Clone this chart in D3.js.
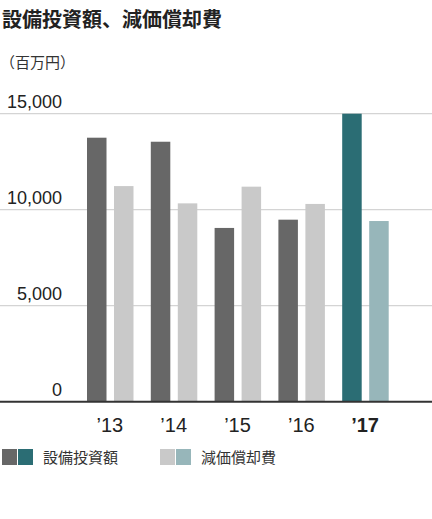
<!DOCTYPE html>
<html><head><meta charset="utf-8">
<script src="https://cdn.jsdelivr.net/npm/d3@7"></script>
<style>body{margin:0;background:#fff}text{font-family:"Noto Sans CJK JP","Liberation Sans",sans-serif}</style>
</head><body>
<svg id="c" width="432" height="519"></svg>
<script>
var years = ["’13", "’14", "’15", "’16", "’17"];
var capex = [13750, 13540, 9050, 9480, 15000];
var depreciation = [11230, 10330, 11200, 10300, 9410];
var ticks = [0, 5000, 10000, 15000];

var svg = d3.select('#c');
var y = d3.scaleLinear().domain([0, 15000]).range([401.7, 113.7]);
var x = d3.scaleBand().domain(years).range([78, 397]);
var bw = 19.5;

svg.append('text').attr('x', 2).attr('y', 27).attr('font-size', 20).attr('font-weight', 'bold')
	.attr('fill', '#222').text('設備投資額、減価償却費');
svg.append('text').attr('x', 0).attr('y', 68).attr('font-size', 15).attr('fill', '#333').text('（百万円）');

// grid
svg.selectAll('.grid').data(ticks.slice(1)).enter().append('line')
	.attr('x1', 0).attr('x2', 432)
	.attr('y1', function(d) { return y(d); }).attr('y2', function(d) { return y(d); })
	.attr('stroke', '#d4d4d4').attr('stroke-width', 1.2);
svg.selectAll('.tick').data(ticks).enter().append('text')
	.attr('x', 62).attr('y', function(d) { return y(d) - 6; })
	.attr('text-anchor', 'end').attr('font-size', 18).attr('fill', '#222')
	.style('font-family', 'Liberation Sans, Arial, sans-serif')
	.text(function(d) { return d3.format(',')(d); });

// bars
svg.selectAll('.capex').data(capex).enter().append('rect')
	.attr('x', function(d, i) { return x(years[i]) + 9; })
	.attr('y', function(d) { return y(d); })
	.attr('width', bw).attr('height', function(d) { return y(0) - y(d); })
	.attr('fill', function(d, i) { return i === 4 ? '#2b6d74' : '#676767'; });
svg.selectAll('.dep').data(depreciation).enter().append('rect')
	.attr('x', function(d, i) { return x(years[i]) + 36; })
	.attr('y', function(d) { return y(d); })
	.attr('width', bw).attr('height', function(d) { return y(0) - y(d); })
	.attr('fill', function(d, i) { return i === 4 ? '#97b6ba' : '#c9c9c9'; });

svg.append('line').attr('x1', 0).attr('x2', 432).attr('y1', y(0)).attr('y2', y(0))
	.attr('stroke', '#333').attr('stroke-width', 2);

svg.selectAll('.xl').data(years).enter().append('text')
	.attr('x', function(d) { return x(d) + x.bandwidth() / 2; }).attr('y', 432)
	.attr('text-anchor', 'middle').attr('font-size', 20).attr('fill', '#222')
	.style('font-family', 'Liberation Sans, Arial, sans-serif')
	.attr('font-weight', function(d, i) { return i === 4 ? 'bold' : 'normal'; })
	.text(function(d) { return d; });

// legend
var legend = [
	{x: 2, c: ['#676767', '#2b6d74'], t: '設備投資額'},
	{x: 160, c: ['#c9c9c9', '#97b6ba'], t: '減価償却費'}
];
var lg = svg.selectAll('.lg').data(legend).enter().append('g')
	.attr('transform', function(d) { return 'translate(' + d.x + ',449)'; });
lg.append('rect').attr('width', 15).attr('height', 16).attr('fill', function(d) { return d.c[0]; });
lg.append('rect').attr('x', 16).attr('width', 15).attr('height', 16).attr('fill', function(d) { return d.c[1]; });
lg.append('text').attr('x', 41).attr('y', 14).attr('font-size', 15).attr('fill', '#333')
	.text(function(d) { return d.t; });
</script>
</body></html>
